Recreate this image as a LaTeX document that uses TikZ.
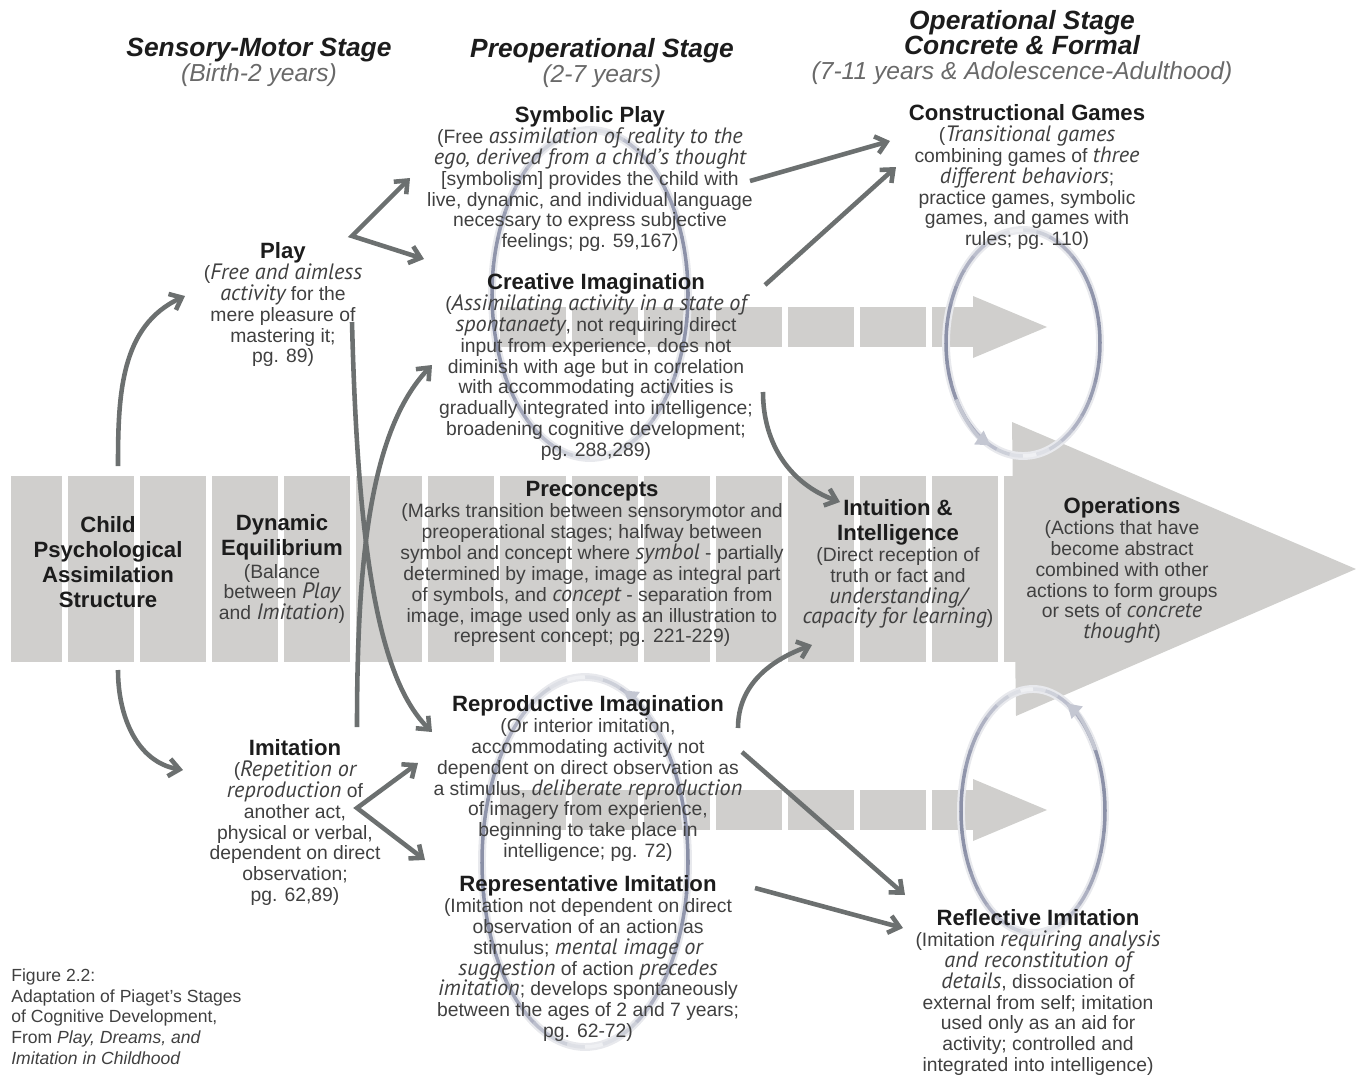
\documentclass[tikz,border=0pt]{standalone}
\usepackage{fontspec}
\setmainfont{Liberation Sans}
\newfontfamily\emfont[Scale=1.15]{PT Sans}
\usetikzlibrary{arrows.meta}

\definecolor{bandgray}{RGB}{208,207,205}
\definecolor{linkgray}{RGB}{108,112,112}
\definecolor{ringblue}{RGB}{124,130,156}
\definecolor{bodytext}{RGB}{64,64,64}
\definecolor{titletext}{RGB}{28,28,28}
\definecolor{stagegray}{RGB}{105,105,105}

\newcommand{\hd}[1]{{\color{titletext}\bfseries\fontsize{12.6}{11.9}\selectfont #1}}
\newcommand{\ital}[1]{{\emfont\itshape #1}}

\begin{document}
\begin{tikzpicture}[x=0.02cm,y=0.02cm,
    >={Straight Barb[length=6pt,width=10pt]},
    block/.style={fill=bandgray},
    txt/.style={align=center, inner sep=0pt, anchor=north, text=bodytext, font=\fontsize{11}{11.9}\selectfont},
    stage/.style={align=center, inner sep=0pt, anchor=north, text=titletext, font=\bfseries\itshape\fontsize{15}{14.3}\selectfont},
    link/.style={draw=linkgray, line width=2.6pt, ->},
    ringtip/.style={draw=ringblue!45!white, line width=2pt, -{Triangle[length=8pt,width=9pt]}}]

\useasboundingbox (0,0) rectangle (1356,-1078);

% the big band and the two small ones
\fill[block] (11,-476) rectangle (62,-662);
\foreach \x in {68,140,...,932}
  \fill[block] (\x,-476) rectangle ++(66,-186);
\fill[block] (1004,-476) rectangle (1040,-662);
\fill[block] (1012,-422) -- (1356,-569) -- (1016,-716) -- cycle;
\foreach \y in {327,810}{
  \foreach \x in {500,572,...,860}
    \fill[block] (\x,-\y+20) rectangle ++(66,-40);
  \fill[block] (932,-\y+20) rectangle (976,-\y-20);
  \fill[block] (973,-\y+31) -- (1047,-\y) -- (973,-\y-31) -- cycle;
}

% rings
\foreach \cx/\cy/\rx/\ry in {590/294/98/164,585/862/103/185,1023/343/77/113,1033/811/72/122}{
  \draw[white!82!ringblue, line width=4.5pt] (\cx,-\cy) ellipse [x radius=\rx, y radius=\ry];
  \foreach \a in {0,10,...,350}{
    \pgfmathtruncatemacro\tone{12+78*abs(cos(\a))}
    \draw[ringblue!\tone!white, line width=2pt] (\cx,-\cy) ++({\a}:{\rx} and {\ry})
      arc[start angle=\a, delta angle=10.5, x radius=\rx, y radius=\ry];
  }
}
\draw[ringtip] (585,-862) ++(40:103 and 185) arc[start angle=40, end angle=68, x radius=103, y radius=185];
\draw[ringtip] (1023,-343) ++(210:77 and 113) arc[start angle=210, end angle=245, x radius=77, y radius=113];
\draw[ringtip] (1033,-811) ++(30:72 and 122) arc[start angle=30, end angle=62, x radius=72, y radius=122];

% stage headings
\node[stage] (sens) at (259,-38) {Sensory-Motor Stage\\
  {\mdseries\color{stagegray}\fontsize{14}{14.3}\selectfont(Birth-2 years)}};
\node[stage] (preop) at (602,-38) {Preoperational Stage\\
  {\mdseries\color{stagegray}\fontsize{14}{14.3}\selectfont(2-7 years)}};
\node[stage] (opst) at (1022,-10) {Operational Stage\\Concrete \& Formal\\
  {\mdseries\color{stagegray}\fontsize{14}{14.3}\selectfont(7-11 years \& Adolescence-Adulthood)}};

% boxes of text
\node[txt, text=titletext, font=\bfseries\fontsize{12.6}{14.2}\selectfont] (child) at (108,-516)
  {Child\\Psychological\\Assimilation\\Structure};
\node[txt] (dyneq) at (282,-514) {\hd{Dynamic}\\[2.3pt]\hd{Equilibrium}\\[1pt]
  (Balance\\between \ital{Play}\\and \ital{Imitation})};
\node[txt] (play) at (283,-242) {\hd{Play}\\
  (\ital{Free and aimless}\\\ital{activity} for the\\mere pleasure of\\mastering it;\\pg. 89)};
\node[txt] (imit) at (295,-739) {\hd{Imitation}\\
  (\ital{Repetition or}\\\ital{reproduction} of\\another act,\\physical or verbal,\\
  dependent on direct\\observation;\\pg. 62,89)};
\node[txt] (symp) at (590,-106) {\hd{Symbolic Play}\\
  (Free \ital{assimilation of reality to the}\\
  \ital{ego, derived from a child’s thought}\\
  {[}symbolism{]} provides the child with\\
  live, dynamic, and individual language\\
  necessary to express subjective\\
  feelings; pg. 59,167)};
\node[txt] (crea) at (596,-273) {\hd{Creative Imagination}\\
  (\ital{Assimilating activity in a state of}\\
  \ital{spontanaety}, not requiring direct\\
  input from experience, does not\\
  diminish with age but in correlation\\
  with accommodating activities is\\
  gradually integrated into intelligence;\\
  broadening cognitive development;\\
  pg. 288,289)};
\node[txt] (precon) at (592,-481) {\hd{Preconcepts}\\
  (Marks transition between sensorymotor and\\
  preoperational stages; halfway between\\
  symbol and concept where \ital{symbol} - partially\\
  determined by image, image as integral part\\
  of symbols, and \ital{concept} - separation from\\
  image, image used only as an illustration to\\
  represent concept; pg. 221-229)};
\node[txt] (repr) at (588,-695) {\hd{Reproductive Imagination}\\
  (Or interior imitation,\\
  accommodating activity not\\
  dependent on direct observation as\\
  a stimulus, \ital{deliberate reproduction}\\
  of imagery from experience,\\
  beginning to take place in\\
  intelligence; pg. 72)};
\node[txt] (rept) at (588,-875) {\hd{Representative Imitation}\\
  (Imitation not dependent on direct\\
  observation of an action as\\
  stimulus; \ital{mental image or}\\
  \ital{suggestion} of action \ital{precedes}\\
  \ital{imitation}; develops spontaneously\\
  between the ages of 2 and 7 years;\\
  pg. 62-72)};
\node[txt] (cons) at (1027,-104) {\hd{Constructional Games}\\
  (\ital{Transitional games}\\
  combining games of \ital{three}\\
  \ital{different behaviors};\\
  practice games, symbolic\\
  games, and games with\\
  rules; pg. 110)};
\node[txt] (intu) at (898,-499) {\hd{Intuition \&}\\[2.3pt]\hd{Intelligence}\\
  (Direct reception of\\
  truth or fact and\\
  \ital{understanding/}\\
  \ital{capacity for learning})};
\node[txt] (oper) at (1122,-497) {\hd{Operations}\\
  (Actions that have\\
  become abstract\\
  combined with other\\
  actions to form groups\\
  or sets of \ital{concrete}\\
  \ital{thought})};
\node[txt] (refl) at (1038,-909) {\hd{Reflective Imitation}\\
  (Imitation \ital{requiring analysis}\\
  \ital{and reconstitution of}\\
  \ital{details}, dissociation of\\
  external from self; imitation\\
  used only as an aid for\\
  activity; controlled and\\
  integrated into intelligence)};
\node[txt, anchor=north west, align=left, font=\fontsize{10}{11.9}\selectfont] (fig) at (11,-968)
  {Figure 2.2:\\
  Adaptation of Piaget’s Stages\\
  of Cognitive Development,\\
  From \textit{Play, Dreams, and}\\
  \textit{Imitation in Childhood}};

% arrow ends
\coordinate (child-up) at (118,-466);
\coordinate (child-down) at (118,-670);
\coordinate (play-w) at (185,-296);
\coordinate (imit-w) at (183,-770);
\coordinate (play-e) at (352,-236);
\coordinate (play-s) at (352,-322);
\coordinate (imit-n) at (357,-727);
\coordinate (imit-e) at (357,-808);
\coordinate (symp-w) at (410,-178);
\coordinate (symp-e) at (750,-181);
\coordinate (crea-nw) at (424,-259);
\coordinate (crea-sw) at (432,-365);
\coordinate (crea-ne) at (765,-285);
\coordinate (crea-se) at (763,-392);
\coordinate (cons-w1) at (890,-141);
\coordinate (cons-w2) at (896,-167);
\coordinate (intu-nw) at (840,-502);
\coordinate (intu-sw) at (812,-645);
\coordinate (repr-nw) at (432,-732);
\coordinate (repr-w) at (418,-763);
\coordinate (repr-ne) at (738,-728);
\coordinate (repr-e) at (742,-752);
\coordinate (rept-w) at (425,-860);
\coordinate (rept-e) at (755,-888);
\coordinate (refl-nw) at (905,-895);
\coordinate (refl-w) at (903,-928);

\draw[link] (child-up) to[out=90,in=205] (play-w);
\draw[link] (child-down) to[out=-90,in=170] (imit-w);
\draw[link,<->] (symp-w) -- (play-e) -- (crea-nw);
\draw[link,<->] (repr-w) -- (imit-e) -- (rept-w);
\draw[link] (play-s) .. controls (358,-560) and (380,-680) .. (repr-nw);
\draw[link] (imit-n) .. controls (357,-560) and (370,-430) .. (crea-sw);
\draw[link] (symp-e) -- (cons-w1);
\draw[link] (crea-ne) -- (cons-w2);
\draw[link] (crea-se) to[out=-90,in=160] (intu-nw);
\draw[link] (repr-ne) to[out=90,in=200] (intu-sw);
\draw[link] (repr-e) -- (refl-nw);
\draw[link] (rept-e) -- (refl-w);
\end{tikzpicture}
\end{document}
